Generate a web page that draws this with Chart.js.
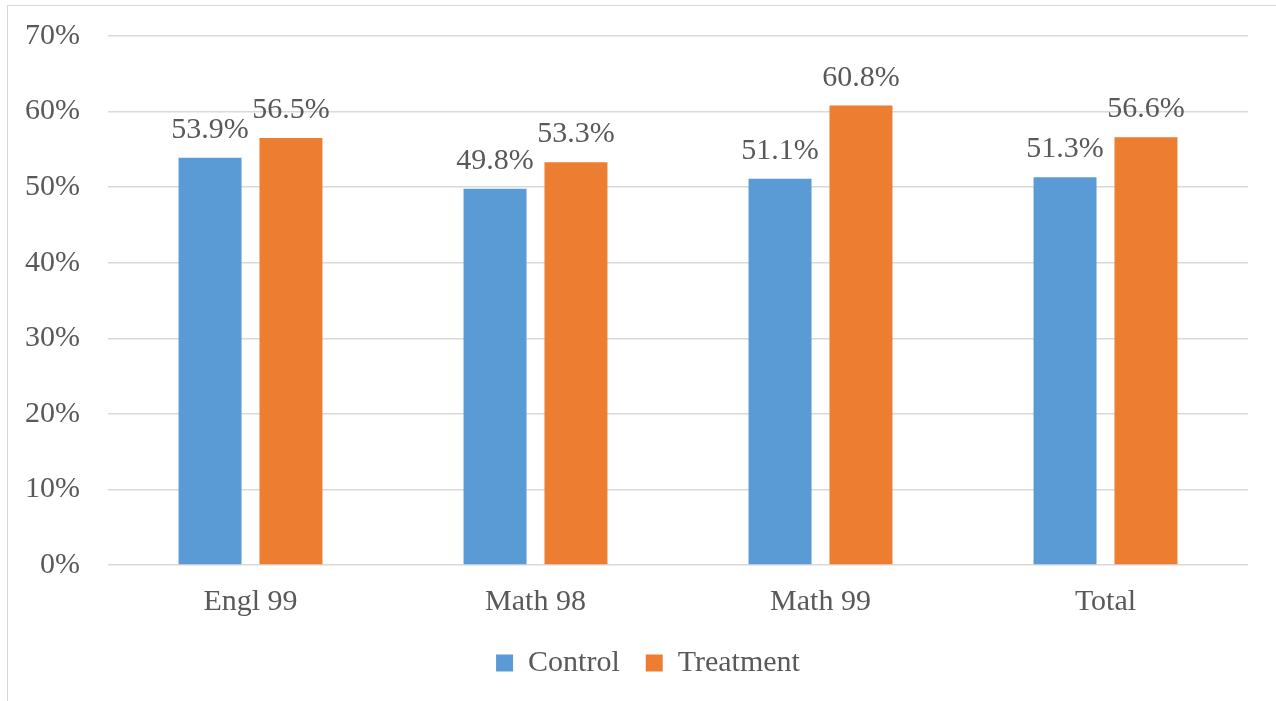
<!DOCTYPE html>
<html lang="en">
<head>
    <meta charset="UTF-8">
    <title>Control vs Treatment</title>
    <style>
        html, body { margin: 0; padding: 0; background: #fff; overflow: hidden; }
        .frame {
            position: absolute; left: 7px; top: 5px;
            width: 1300px; height: 720px;
            border-left: 1px solid #d9d9d9; border-top: 1px solid #d9d9d9;
        }
        .wrap { position: absolute; left: 0; top: 0; width: 1276px; height: 701px; }
    </style>
</head>
<body>
<div class="frame"></div>
<div class="wrap">
    <canvas id="chart"></canvas>
</div>

<script src="https://cdn.jsdelivr.net/npm/chart.js"></script>
<script>
    // pass rates by course (%)
    const courses = ['Engl 99', 'Math 98', 'Math 99', 'Total'];
    const controlRates = [53.9, 49.8, 51.1, 51.3];
    const treatmentRates = [56.5, 53.3, 60.8, 56.6];
    const seriesNames = ['Control', 'Treatment'];

    const FONT = '"Liberation Serif", "Times New Roman", serif';
    const TEXT = '#595959';
    const SIZE = 30;

    // value labels above each bar
    const barLabels = {
        id: 'barLabels',
        afterDatasetsDraw(chart) {
            const ctx = chart.ctx;
            ctx.save();
            ctx.font = SIZE + 'px ' + FONT;
            ctx.fillStyle = TEXT;
            ctx.textAlign = 'center';
            ctx.textBaseline = 'alphabetic';
            chart.data.datasets.forEach((ds, i) => {
                chart.getDatasetMeta(i).data.forEach((bar, j) => {
                    ctx.fillText(ds.data[j].toFixed(1) + '%', bar.x, bar.y - 20);
                });
            });
            ctx.restore();
        }
    };

    // nudge the legend a bit to the right of the canvas centre
    const legendShift = {
        id: 'legendShift',
        afterLayout(chart) {
            if (chart.legend) chart.legend.left += 48;
        }
    };

    new Chart(document.getElementById('chart'), {
        type: 'bar',
        data: {
            labels: courses,
            datasets: [
                { label: seriesNames[0], data: controlRates, backgroundColor: '#5B9BD5' },
                { label: seriesNames[1], data: treatmentRates, backgroundColor: '#ED7D31' }
            ]
        },
        options: {
            responsive: true,
            maintainAspectRatio: false,
            animation: false,
            categoryPercentage: 0.568,
            barPercentage: 0.778,
            layout: { padding: { top: 20, right: 28, bottom: 13, left: 0 } },
            plugins: {
                tooltip: { enabled: false },
                legend: {
                    position: 'bottom',
                    labels: {
                        font: { family: FONT, size: SIZE },
                        color: TEXT,
                        boxWidth: 17,
                        boxHeight: 17,
                        padding: 26
                    }
                }
            },
            scales: {
                x: {
                    afterFit(scale) { scale.height = 57; },
                    grid: { display: false },
                    border: { display: false },
                    ticks: { font: { family: FONT, size: SIZE, lineHeight: '22px' }, color: TEXT, padding: 18 }
                },
                y: {
                    min: 0,
                    max: 70,
                    afterFit(scale) { scale.width = 108; },
                    border: { display: false },
                    grid: { color: '#d9d9d9', lineWidth: 1.5, drawTicks: false },
                    ticks: {
                        stepSize: 10,
                        font: { family: FONT, size: SIZE, lineHeight: '16px' },
                        color: TEXT,
                        padding: 28,
                        callback: v => v + '%'
                    }
                }
            }
        },
        plugins: [barLabels, legendShift]
    });
</script>
</body>
</html>
